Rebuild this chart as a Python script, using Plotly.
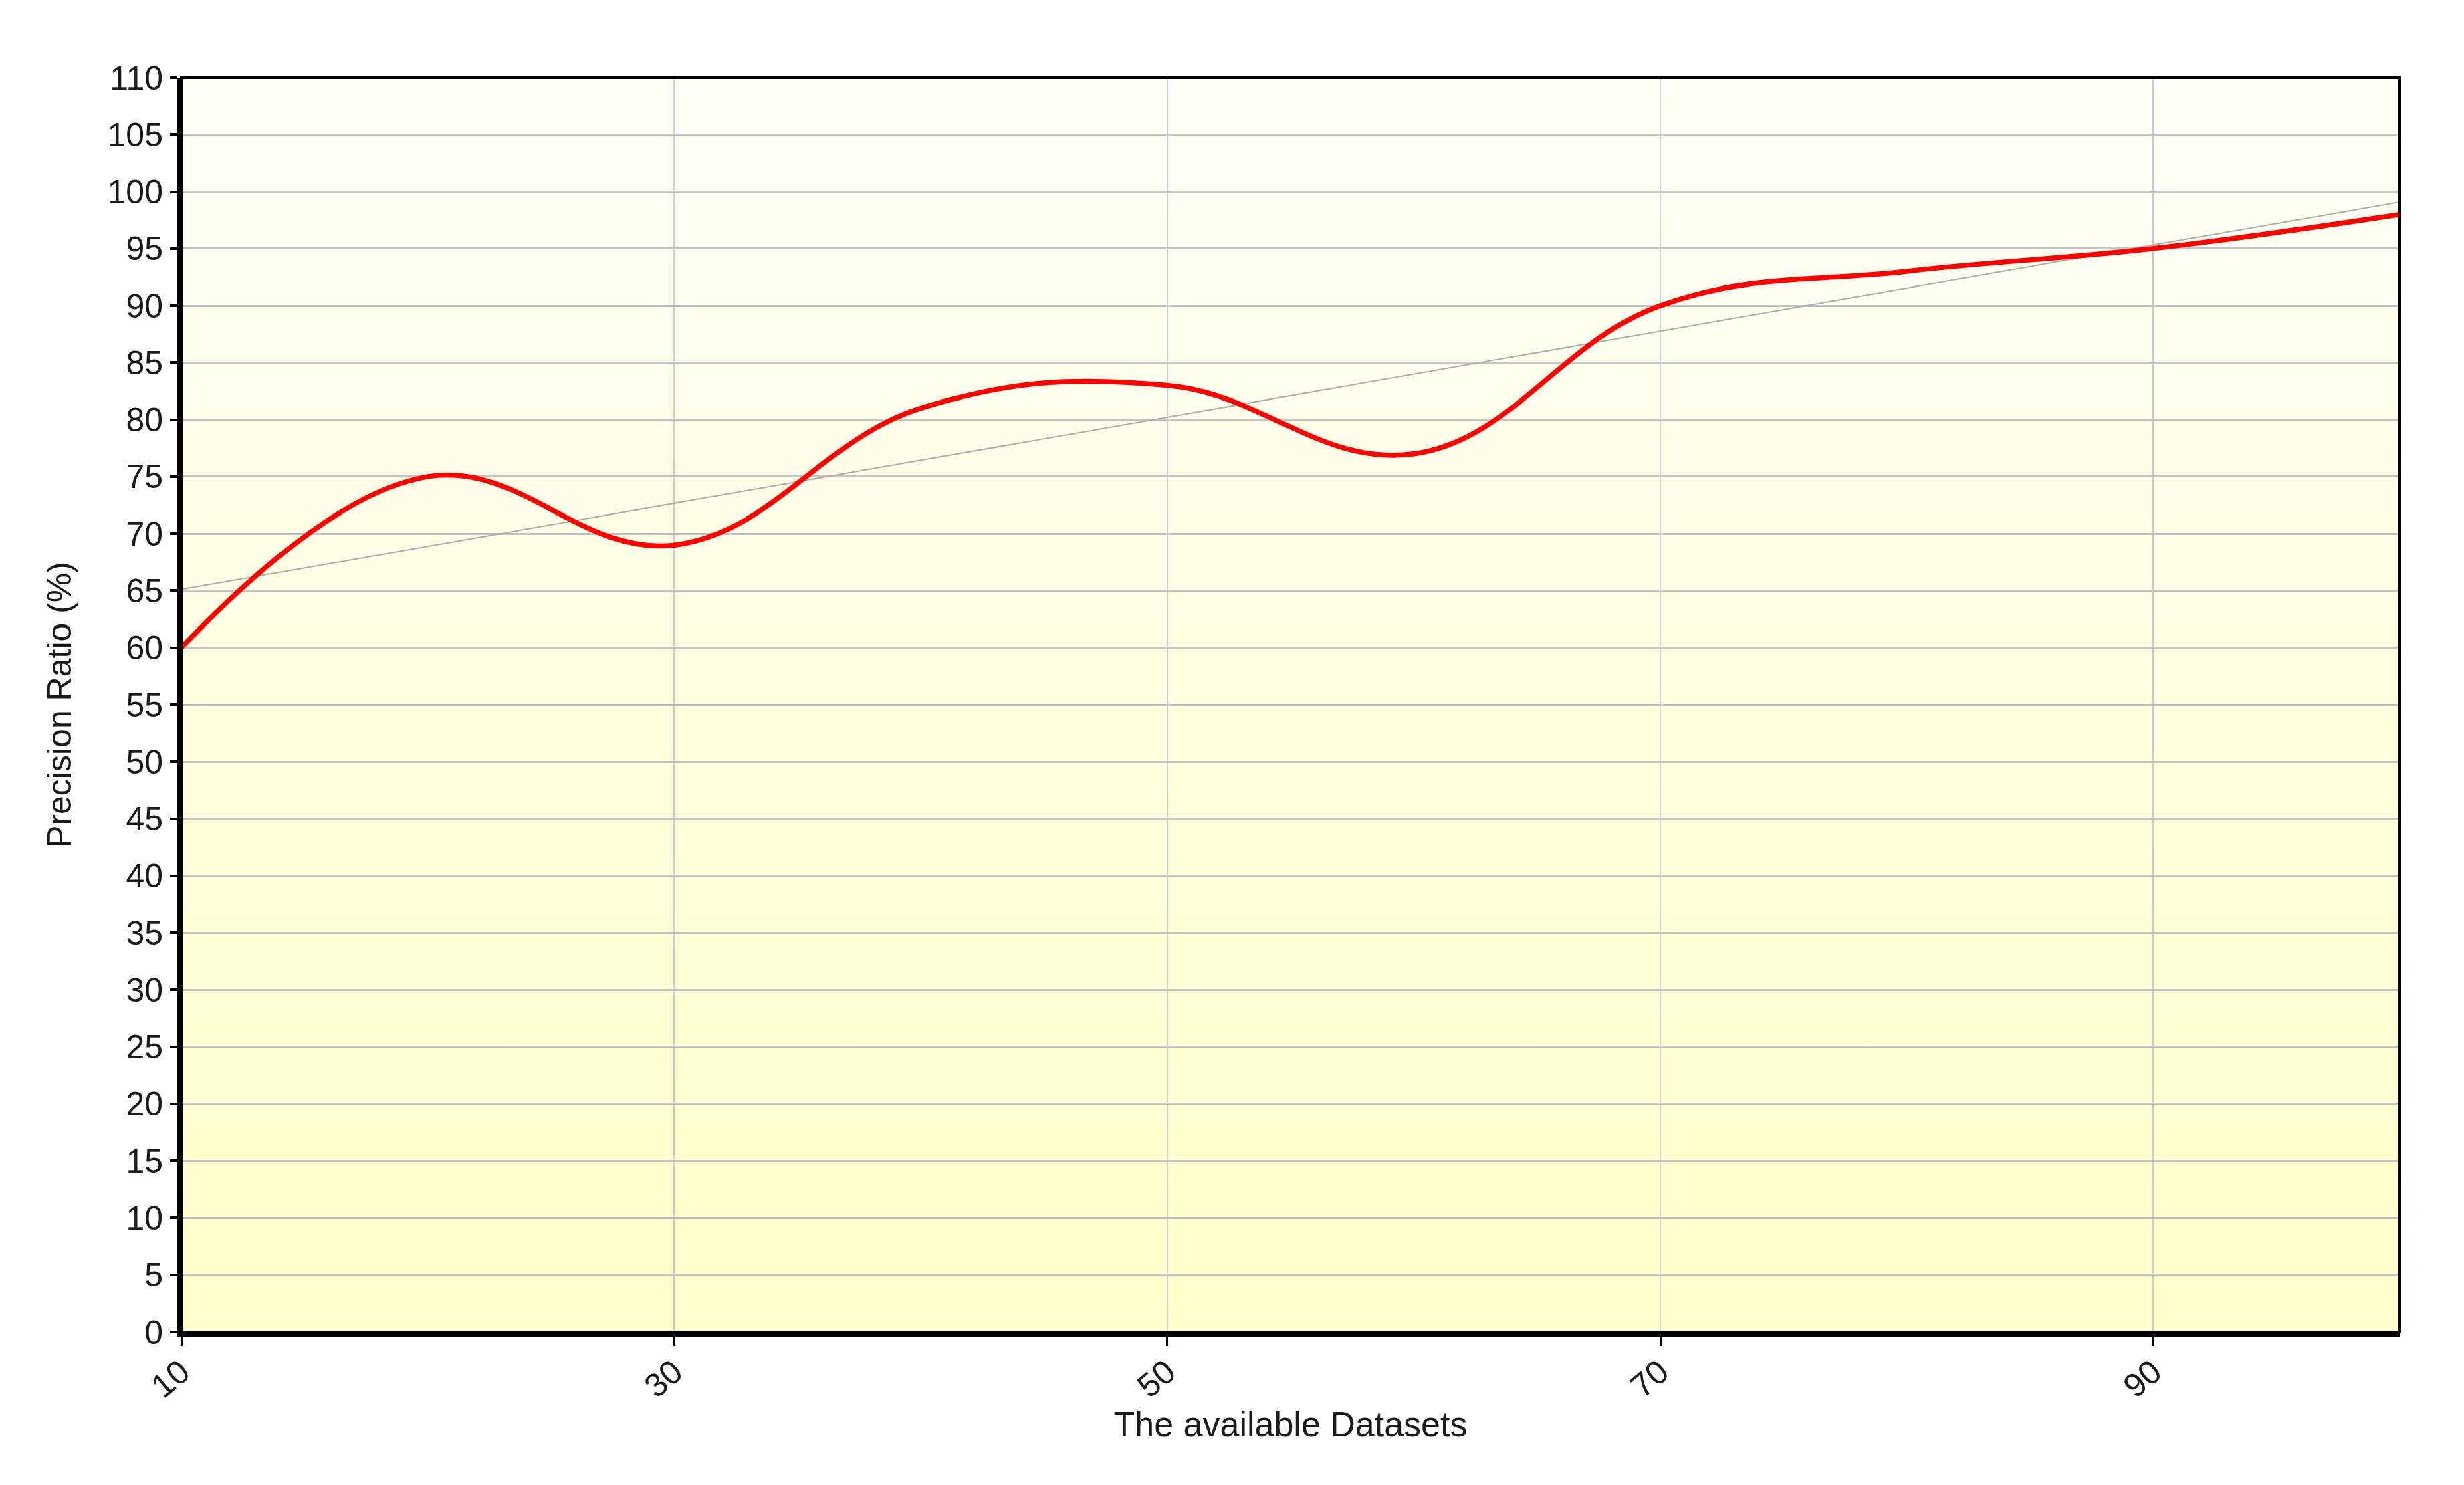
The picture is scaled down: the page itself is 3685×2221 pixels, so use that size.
import base64

import numpy as np
import plotly.graph_objects as go

# datasets on the x axis and precision ratio (%)
DATASETS = [10, 20, 30, 40, 50, 60, 70, 80, 90, 100]
PRECISION = [60, 75, 69, 81, 83, 77, 90, 93, 95, 98]

X_RANGE = [10, 100]
Y_RANGE = [0, 110]
X_TICKS = [10, 30, 50, 70, 90]

FONT = "Liberation Sans, Arial, sans-serif"

# least-squares trend of the series (thin gray line)
slope, icept = np.polyfit(DATASETS, PRECISION, 1)
trend_y = [slope * x + icept for x in X_RANGE]

# soft vertical gradient for the plot background, as an inline svg
svg = (
    '<svg xmlns="http://www.w3.org/2000/svg" width="100" height="100" preserveAspectRatio="none">'
    '<defs><linearGradient id="g" x1="0" y1="0" x2="0" y2="1">'
    '<stop offset="0" stop-color="#FFFFF7"/><stop offset="1" stop-color="#FFFFC9"/>'
    '</linearGradient></defs><rect width="100" height="100" fill="url(#g)"/></svg>'
)
bg_src = "data:image/svg+xml;base64," + base64.b64encode(svg.encode()).decode()

fig = go.Figure()
fig.add_trace(go.Scatter(
    x=X_RANGE, y=trend_y, mode="lines",
    line=dict(color="#ABABAB", width=2), hoverinfo="skip", showlegend=False,
))
fig.add_trace(go.Scatter(
    x=DATASETS, y=PRECISION, mode="lines",
    line=dict(color="#FF0000", width=7.5, shape="spline", smoothing=1.15),
    showlegend=False,
))

fig.add_layout_image(dict(
    source=bg_src, xref="paper", yref="paper", x=0, y=1, sizex=1, sizey=1,
    xanchor="left", yanchor="top", sizing="stretch", layer="below",
))
# thin frame on top / right; left and bottom come from the axis lines
fig.add_shape(type="rect", xref="paper", yref="paper", x0=0, y0=0, x1=1, y1=1,
              line=dict(color="black", width=4), layer="above")

fig.update_layout(
    width=3669, height=2205,
    margin=dict(l=263, r=88, t=108, b=221),
    paper_bgcolor="white",
    plot_bgcolor="rgba(0,0,0,0)",
    font=dict(family=FONT, size=50, color="#1A1A1A"),
    xaxis=dict(
        range=X_RANGE, tickvals=X_TICKS, tickangle=-40,
        showgrid=True, gridcolor="#CACACF", gridwidth=2,
        showline=True, linecolor="black", linewidth=7,
        ticks="outside", ticklen=14, tickwidth=3, tickcolor="black",
        ticklabelstandoff=-10,
        zeroline=False,
        title=dict(text="The available Datasets", font=dict(size=52), standoff=8),
    ),
    yaxis=dict(
        range=Y_RANGE, dtick=5, tick0=0,
        showgrid=True, gridcolor="#C4C4C4", gridwidth=3,
        showline=True, linecolor="black", linewidth=6,
        ticks="outside", ticklen=11, tickwidth=4, tickcolor="black",
        zeroline=False,
        title=dict(text="Precision Ratio (%)", font=dict(size=50), standoff=40),
    ),
)

fig.write_html("out.html")
